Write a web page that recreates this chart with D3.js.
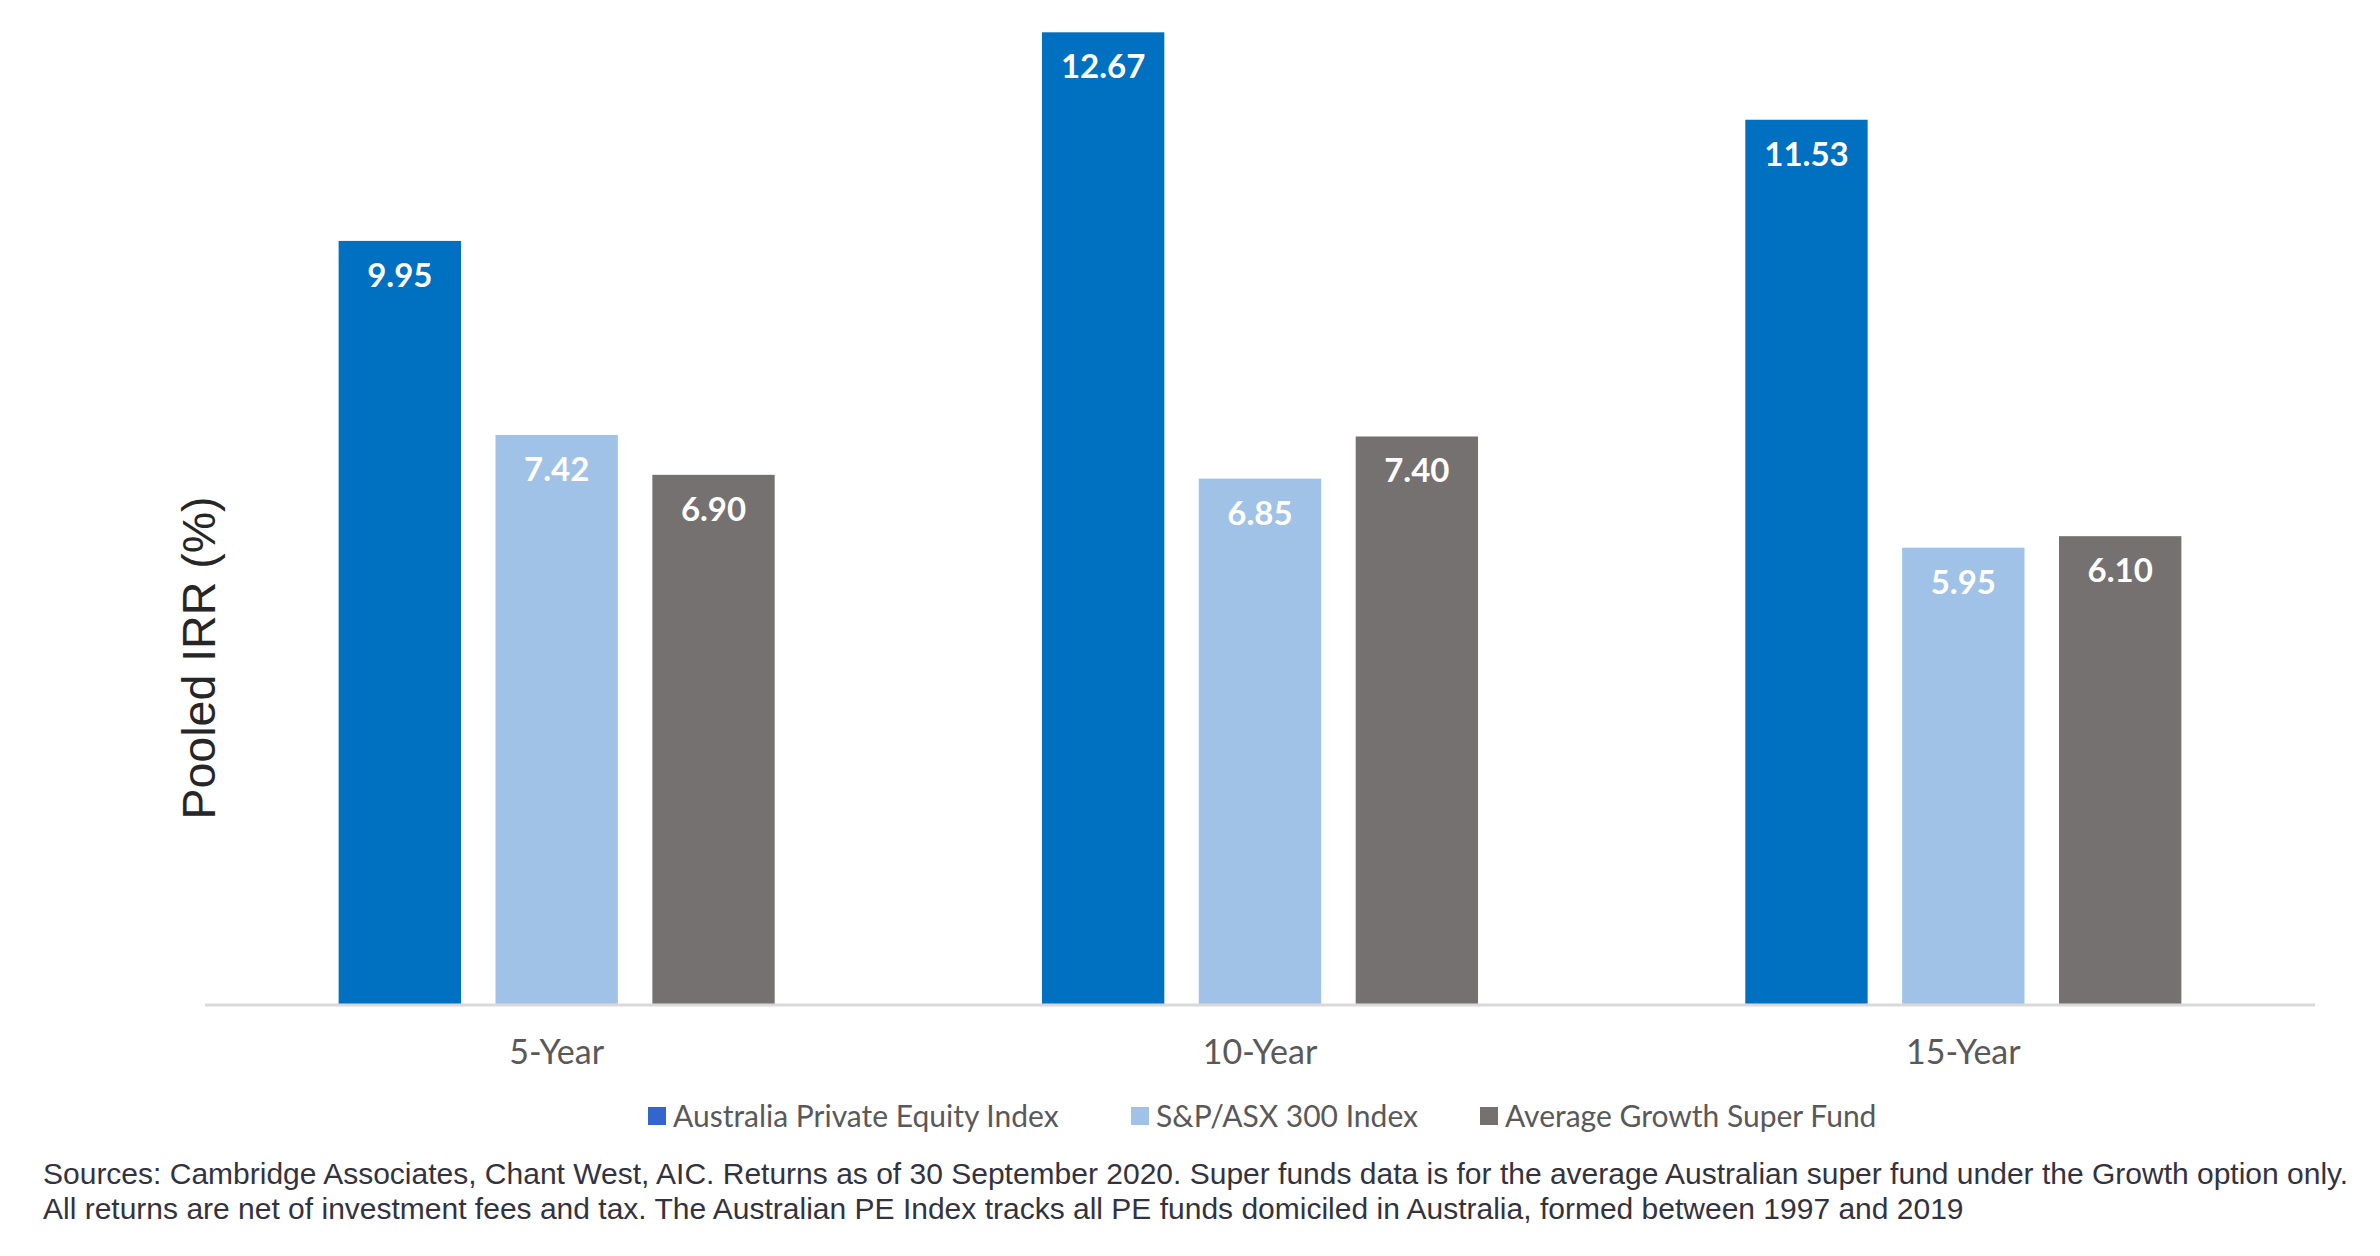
<!DOCTYPE html>
<html>
<head>
<meta charset="utf-8">
<script src="https://cdnjs.cloudflare.com/ajax/libs/d3/7.8.5/d3.min.js"></script>
<style>
  html, body { margin: 0; padding: 0; background: #ffffff; }
  svg { display: block; }
</style>
</head>
<body>
<div id="chart"></div>
<script>
// data
var categories = ['5-Year', '10-Year', '15-Year'];
var series = ['Australia Private Equity Index', 'S&P/ASX 300 Index', 'Average Growth Super Fund'];
var peIndex = [9.95, 12.67, 11.53];
var asxIndex = [7.42, 6.85, 5.95];
var superFund = [6.90, 7.40, 6.10];
var footnotes = [
  'Sources: Cambridge Associates, Chant West, AIC. Returns as of 30 September 2020. Super funds data is for the average Australian super fund under the Growth option only.',
  'All returns are net of investment fees and tax. The Australian PE Index tracks all PE funds domiciled in Australia, formed between 1997 and 2019'
];

var colors = ['#0070C0', '#A0C2E6', '#767171'];
var values = [peIndex, asxIndex, superFund];

var width = 2380, height = 1256;

var svg = d3.select('#chart').append('svg')
    .attr('width', width)
    .attr('height', height);

var x0 = d3.scaleBand()
    .domain(categories)
    .range([205, 2315])
    .paddingInner(0.38)
    .paddingOuter(0.19);

var x1 = d3.scaleBand()
    .domain(series)
    .range([0, x0.bandwidth()])
    .paddingInner(0.22);

var y = d3.scaleLinear()
    .domain([0, 13])
    .range([1004, 7]);

// flatten into rows for the bars
var rows = [];
categories.forEach(function(c, i) {
  series.forEach(function(s, j) {
    rows.push({cat: c, ser: s, j: j, value: values[j][i]});
  });
});

svg.selectAll('.bar')
    .data(rows)
  .enter().append('rect')
    .attr('class', 'bar')
    .attr('x', function(d) { return x0(d.cat) + x1(d.ser); })
    .attr('y', function(d) { return y(d.value); })
    .attr('width', x1.bandwidth())
    .attr('height', function(d) { return y(0) - y(d.value); })
    .attr('fill', function(d) { return colors[d.j]; });

svg.selectAll('.barlabel')
    .data(rows)
  .enter().append('text')
    .attr('class', 'barlabel')
    .attr('x', function(d) { return x0(d.cat) + x1(d.ser) + x1.bandwidth() / 2; })
    .attr('y', function(d) { return y(d.value) + 46; })
    .style('text-anchor', 'middle')
    .style('font-family', 'Lato, sans-serif')
    .style('font-weight', 'bold')
    .style('font-size', '33px')
    .attr('fill', '#ffffff')
    .text(function(d) { return d.value.toFixed(2); });

// baseline
svg.append('line')
    .attr('x1', x0.range()[0])
    .attr('x2', x0.range()[1])
    .attr('y1', y(0) + 1)
    .attr('y2', y(0) + 1)
    .attr('stroke', '#d9d9d9')
    .attr('stroke-width', 3);

// category labels
svg.selectAll('.catlabel')
    .data(categories)
  .enter().append('text')
    .attr('class', 'catlabel')
    .attr('x', function(d) { return x0(d) + x0.bandwidth() / 2; })
    .attr('y', 1064)
    .style('text-anchor', 'middle')
    .style('font-family', 'Lato, sans-serif')
    .style('font-size', '34px')
    .attr('fill', '#595959')
    .text(function(d) { return d; });

// y axis title
svg.append('text')
    .attr('transform', 'translate(215,658) rotate(-90)')
    .style('text-anchor', 'middle')
    .style('font-family', 'Liberation Sans, Arial, sans-serif')
    .style('font-size', '46.5px')
    .attr('fill', '#262626')
    .text('Pooled IRR (%)');

// legend
var legendX = [648, 1131, 1480];
var legend = svg.selectAll('.legend')
    .data(series)
  .enter().append('g')
    .attr('class', 'legend')
    .attr('transform', function(d, i) { return 'translate(' + legendX[i] + ',1116)'; });

legend.append('rect')
    .attr('x', 0)
    .attr('y', -9)
    .attr('width', 18)
    .attr('height', 18)
    .attr('fill', function(d, i) { return colors[i] == '#0070C0' ? '#3366CC' : colors[i]; });

legend.append('text')
    .attr('x', 25)
    .attr('y', 11)
    .style('font-family', 'Lato, sans-serif')
    .style('font-size', '30px')
    .attr('fill', '#595959')
    .text(function(d) { return d; });

// footnote
svg.selectAll('.foot')
    .data(footnotes)
  .enter().append('text')
    .attr('class', 'foot')
    .attr('x', 43)
    .attr('y', function(d, i) { return 1184 + i * 35; })
    .style('font-family', 'Liberation Sans, Arial, sans-serif')
    .style('font-size', '30px')
    .attr('fill', '#333340')
    .text(function(d) { return d; });
</script>
</body>
</html>
